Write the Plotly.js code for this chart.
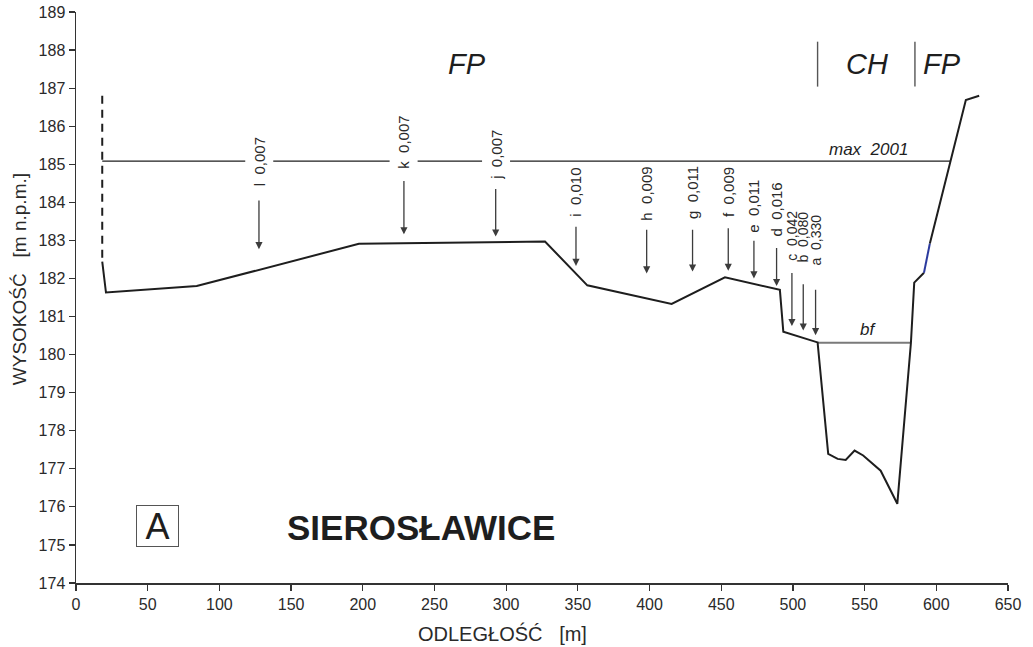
<!DOCTYPE html>
<html>
<head>
<meta charset="utf-8">
<script src="https://cdn.plot.ly/plotly-3.0.1.min.js"></script>
<style>
  html, body { margin: 0; padding: 0; background: #fff; }
  #chart { width: 1033px; height: 647px; }
</style>
</head>
<body>
<div id="chart"></div>
<script>
// Cross-section profile: distance [m] vs elevation [m a.s.l.]
const profileX = [18.3, 20.9, 84.2, 197.3, 327.1, 356.6, 415.4, 452.6, 490.9, 493.3, 517.2,
                  524.6, 531.2, 536.8, 543.0, 549.0, 561.2, 572.8, 582.3, 584.6, 591.4];
const profileY = [182.44, 181.63, 181.80, 182.91, 182.97, 181.82, 181.33, 182.03, 181.70, 180.60, 180.32,
                  177.39, 177.26, 177.23, 177.48, 177.35, 176.95, 176.08, 180.31, 181.89, 182.15];
// short bank stretch drawn in blue, then the upper bank
const blueX = [591.4, 595.5];
const blueY = [182.15, 182.92];
const bankX = [595.5, 620.6, 629.9];
const bankY = [182.92, 186.69, 186.80];
// dashed edge at the start of the section
const edgeX = [18.3, 18.3];
const edgeY = [186.8, 182.44];

// flood level (max 2001) and bankfull level
const maxLevel = 185.08;
const maxFrom = 18.3, maxTo = 610.2;
const bfLevel = 180.31;
const bfFrom = 517.2, bfTo = 582.3;

// measurement points: letter, value, position, arrow top and tip, label height
const pointNames  = ['l', 'k', 'j', 'i', 'h', 'g', 'f', 'e', 'd', 'c', 'b', 'a'];
const pointValues = ['0,007', '0,007', '0,007', '0,010', '0,009', '0,011', '0,009', '0,011', '0,016', '0,042', '0,080', '0,330'];
const pointX      = [127.6, 228.7, 292.7, 348.7, 398.0, 430.0, 454.9, 472.8, 488.6, 499.3, 507.2, 515.8];
const arrowTop    = [184.09, 184.60, 184.39, 183.40, 183.32, 183.32, 183.36, 183.03, 182.84, 182.18, 181.89, 181.74];
const arrowTip    = [182.77, 183.16, 183.10, 182.33, 182.13, 182.18, 182.20, 182.00, 181.80, 180.75, 180.63, 180.51];
const labelY      = [185.08, 185.59, 185.24, 184.28, 184.22, 184.26, 184.28, 183.91, 183.80, 183.12, 183.08, 183.01];

// zone boundaries (floodplain / channel)
const zoneBounds = [517.2, 585.1];
const zoneLabels = ['FP', 'CH', 'FP'];
const zoneLabelX = [272.7, 551.4, 603.9];

const xTicks = [0, 50, 100, 150, 200, 250, 300, 350, 400, 450, 500, 550, 600, 650];
const yTicks = [174, 175, 176, 177, 178, 179, 180, 181, 182, 183, 184, 185, 186, 187, 188, 189];

const FONT = 'Liberation Sans, Arial, sans-serif';
const INK = '#1e1e1e';
const SP = '\u00a0';

const traces = [
  { x: [maxFrom, maxTo], y: [maxLevel, maxLevel], mode: 'lines',
    line: { color: INK, width: 1.2 }, hoverinfo: 'skip' },
  { x: [bfFrom, bfTo], y: [bfLevel, bfLevel], mode: 'lines',
    line: { color: '#7a7a7a', width: 2 }, hoverinfo: 'skip' },
  { x: edgeX, y: edgeY, mode: 'lines',
    line: { color: INK, width: 2, dash: '8px,6px' }, hoverinfo: 'skip' },
  { x: profileX, y: profileY, mode: 'lines',
    line: { color: INK, width: 2 }, hoverinfo: 'skip' },
  { x: blueX, y: blueY, mode: 'lines',
    line: { color: '#2b3a9e', width: 2 }, hoverinfo: 'skip' },
  { x: bankX, y: bankY, mode: 'lines',
    line: { color: INK, width: 2 }, hoverinfo: 'skip' }
];

const annotations = [];
const shapes = [];

// arrows and rotated labels at each measurement point
pointNames.forEach((name, i) => {
  annotations.push({
    x: pointX[i], y: arrowTip[i], ax: pointX[i], ay: arrowTop[i],
    xref: 'x', yref: 'y', axref: 'x', ayref: 'y',
    text: '', showarrow: true, arrowhead: 2, arrowsize: 1.1, arrowwidth: 1.3,
    arrowcolor: '#3c3c3c', standoff: 0
  });
  const onLine = i < 3;
  annotations.push({
    x: pointX[i], y: labelY[i], xref: 'x', yref: 'y',
    text: name + SP + SP + pointValues[i], showarrow: false, textangle: -90,
    font: { family: FONT, size: i >= 9 ? 14 : 15, color: '#2a2a2a' },
    bgcolor: onLine ? '#ffffff' : 'rgba(0,0,0,0)', borderpad: onLine ? 5 : 0,
    xanchor: 'center', yanchor: 'middle'
  });
});

// zone divider ticks and zone names
zoneBounds.forEach(xb => {
  shapes.push({ type: 'line', xref: 'x', yref: 'y', x0: xb, x1: xb, y0: 187.04, y1: 188.22,
                line: { color: '#555', width: 1.4 } });
});
zoneLabels.forEach((t, i) => {
  annotations.push({ x: zoneLabelX[i], y: 187.63, xref: 'x', yref: 'y', text: t, showarrow: false,
    font: { family: FONT, size: 29, color: INK, style: 'italic' } });
});

annotations.push(
  { x: 553.0, y: 185.40, xref: 'x', yref: 'y', text: 'max' + SP + SP + '2001', showarrow: false,
    font: { family: FONT, size: 17, color: INK, style: 'italic' } },
  { x: 552.3, y: 180.66, xref: 'x', yref: 'y', text: 'bf', showarrow: false,
    font: { family: FONT, size: 17, color: INK, style: 'italic' } },
  { x: 56.8, y: 175.50, xref: 'x', yref: 'y', text: 'A', showarrow: false,
    font: { family: FONT, size: 36, color: INK }, bordercolor: '#555', borderwidth: 1, borderpad: 0,
    width: 41, height: 40, align: 'center', valign: 'middle' },
  { x: 240.3, y: 175.45, xref: 'x', yref: 'y', text: '<b>SIEROSŁAWICE</b>', showarrow: false,
    font: { family: FONT, size: 35, color: INK } },
  { x: 0.4576, y: -0.0893, xref: 'paper', yref: 'paper', text: 'ODLEGŁOŚĆ' + SP + SP + SP + '[m]', showarrow: false,
    font: { family: FONT, size: 20, color: '#2a2a2a' }, yanchor: 'middle' },
  { x: -0.0612, y: 0.532, xref: 'paper', yref: 'paper', text: 'WYSOKOŚĆ' + SP + SP + SP + '[m n.p.m.]', showarrow: false,
    textangle: -90, font: { family: FONT, size: 19, color: '#2a2a2a' }, xanchor: 'center', yanchor: 'middle' }
);

const axisCommon = {
  showgrid: false, zeroline: false, showline: true, linecolor: '#333', linewidth: 1.5,
  ticks: 'outside', ticklen: 6, tickwidth: 1.2, tickcolor: '#333',
  tickfont: { family: FONT, size: 16, color: '#2a2a2a' }
};

const layout = {
  width: 1033, height: 647,
  margin: { l: 76, r: 25, t: 12, b: 64 },
  paper_bgcolor: '#fff', plot_bgcolor: '#fff',
  showlegend: false,
  xaxis: Object.assign({}, axisCommon, { range: [0, 650], tickvals: xTicks, ticktext: xTicks.map(String) }),
  yaxis: Object.assign({}, axisCommon, { range: [174, 189], tickvals: yTicks, ticktext: yTicks.map(String) }),
  annotations: annotations,
  shapes: shapes
};

Plotly.newPlot('chart', traces, layout, { staticPlot: true, displayModeBar: false });
</script>
</body>
</html>
